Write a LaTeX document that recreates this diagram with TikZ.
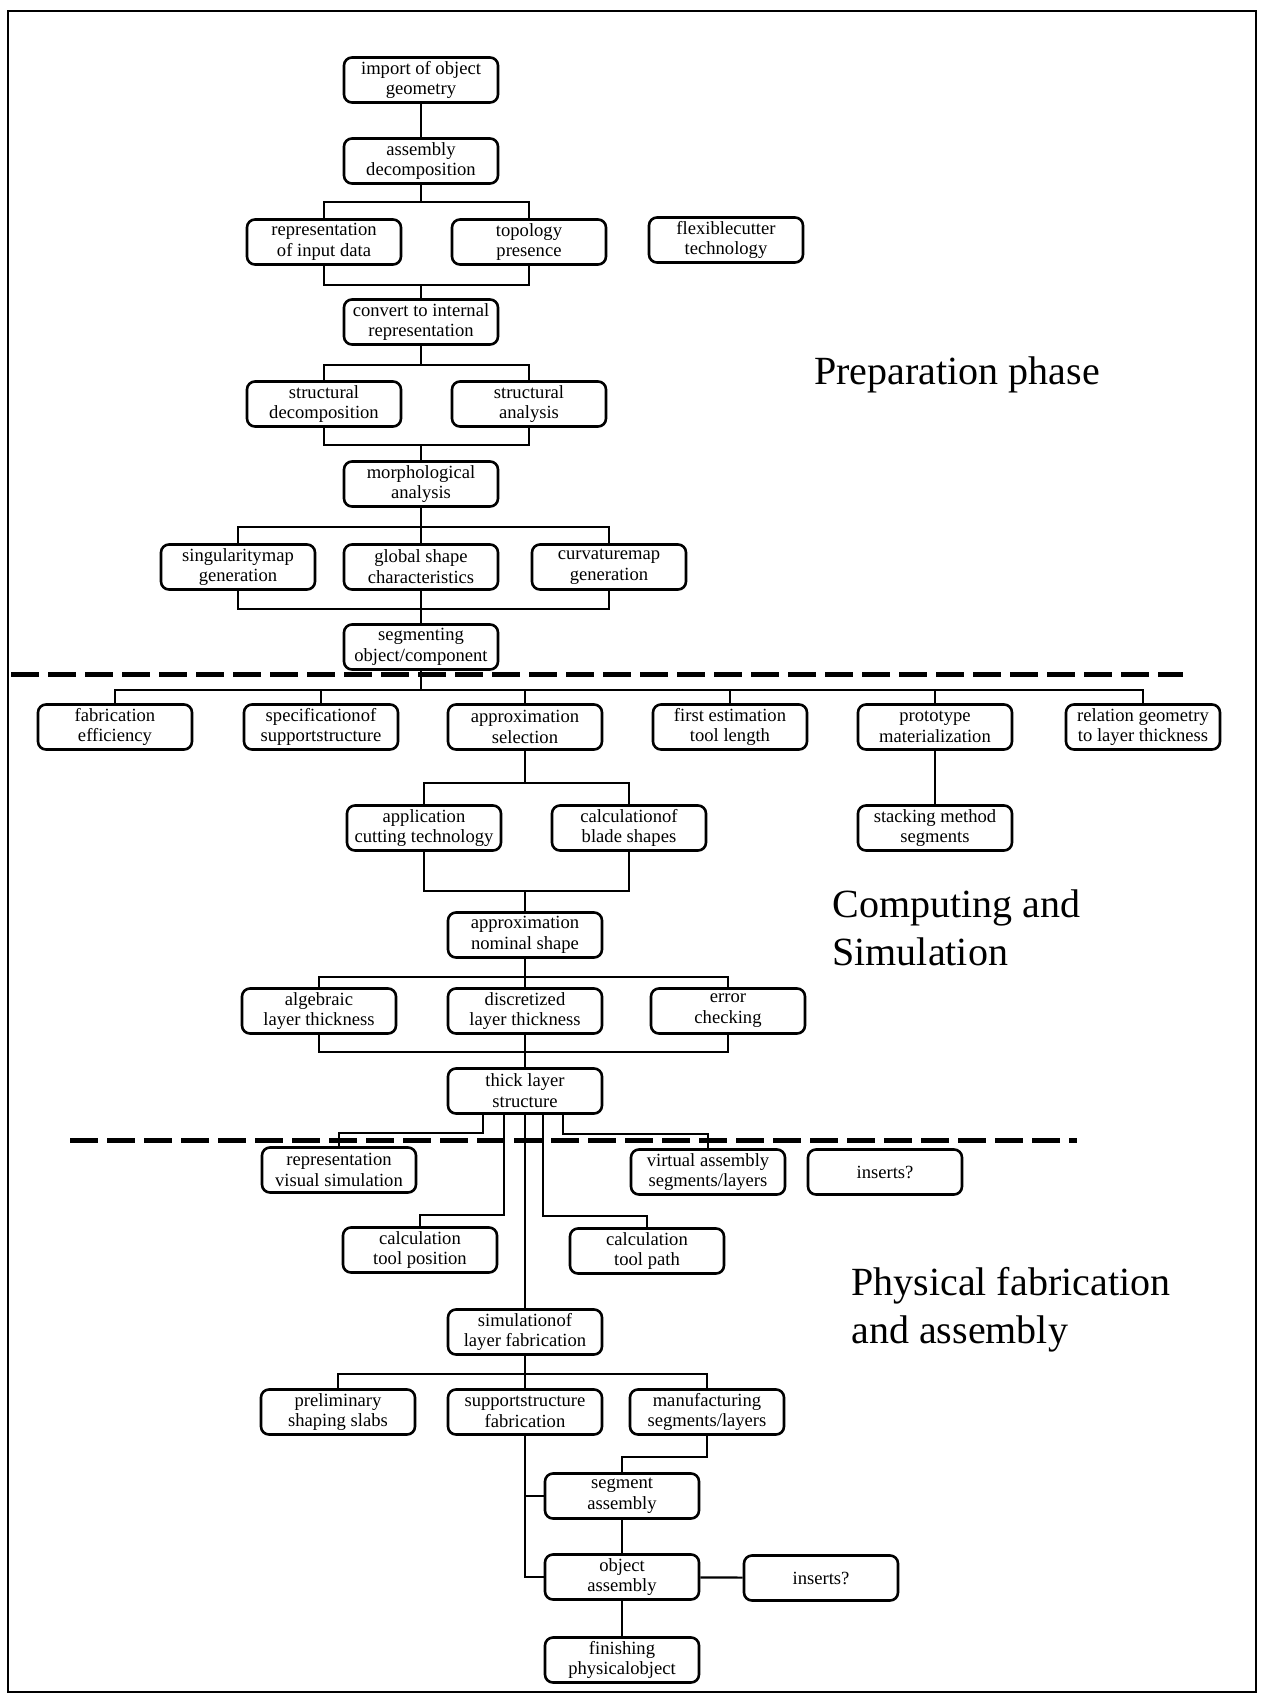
\documentclass[tikz,border=0pt]{standalone}
\usepackage{fontspec}
\setmainfont{Liberation Serif}
\usepackage{tikz}
\tikzset{
	box/.style={draw, line width=1.3pt, rounded corners=4pt, align=center,
		minimum width=77pt, minimum height=22.5pt, inner xsep=1pt, inner ysep=1.5pt,
		font=\fontsize{9.3}{10.4}\selectfont},
	link/.style={line width=1.1pt},
	phase/.style={dash pattern=on 14pt off 4.5pt, line width=2.5pt},
	title/.style={anchor=west, align=left, inner sep=0pt, font=\fontsize{20}{24}\selectfont},
}
\begin{document}
\begin{tikzpicture}[x=0.5pt, y=-0.5pt]
		\useasboundingbox (0,0) rectangle (1260,1697);
		\draw [line width=1.3pt] (8,11) rectangle (1256,1692);
		\node [box] (imp) at (421,80) {import of object\\geometry};
		\node [box] (asm) at (421,161) {assembly\\decomposition};
		\node [box] (rep) at (324,242) {representation\\of input data};
		\node [box] (topo) at (529,242) {topology\\presence};
		\node [box] (flex) at (726,240) {flexiblecutter\\technology};
		\node [box] (conv) at (421,322) {convert to internal\\representation};
		\node [box] (sdec) at (324,404) {structural\\decomposition};
		\node [box] (sana) at (529,404) {structural\\analysis};
		\node [box] (morph) at (421,484) {morphological\\analysis};
		\node [box] (sing) at (238,567) {singularitymap\\generation};
		\node [box] (glob) at (421,567) {global shape\\characteristics};
		\node [box] (curv) at (609,567) {curvaturemap\\generation};
		\node [box] (seg) at (421,647) {segmenting\\object/component};
		\node [box] (fab) at (115,727) {fabrication\\efficiency};
		\node [box] (spec) at (321,727) {specificationof\\supportstructure};
		\node [box] (appsel) at (525,727) {approximation\\selection};
		\node [box] (first) at (730,727) {first estimation\\tool length};
		\node [box] (proto) at (935,727) {prototype\\materialization};
		\node [box] (rel) at (1143,727) {relation geometry\\to layer thickness};
		\node [box] (app) at (424,828) {application\\cutting technology};
		\node [box] (blade) at (629,828) {calculationof\\blade shapes};
		\node [box] (stack) at (935,828) {stacking method\\segments};
		\node [box] (nom) at (525,935) {approximation\\nominal shape};
		\node [box] (alg) at (319,1011) {algebraic\\layer thickness};
		\node [box] (disc) at (525,1011) {discretized\\layer thickness};
		\node [box] (err) at (728,1011) {error\\checking};
		\node [box] (thick) at (525,1091) {thick layer\\structure};
		\node [box] (vis) at (339,1170) {representation\\visual simulation};
		\node [box] (virt) at (708,1172) {virtual assembly\\segments/layers};
		\node [box] (insa) at (885,1172) {inserts?};
		\node [box] (ctp) at (420,1250) {calculation\\tool position};
		\node [box] (ctpath) at (647,1251) {calculation\\tool path};
		\node [box] (sim) at (525,1332) {simulationof\\layer fabrication};
		\node [box] (prel) at (338,1412) {preliminary\\shaping slabs};
		\node [box] (supp) at (525,1412) {supportstructure\\fabrication};
		\node [box] (manuf) at (707,1412) {manufacturing\\segments/layers};
		\node [box] (segasm) at (622,1496) {segment\\assembly};
		\node [box] (objasm) at (622,1577) {object\\assembly};
		\node [box] (insb) at (821,1578) {inserts?};
		\node [box] (fin) at (622,1660) {finishing\\physicalobject};

		\node [title] (prep) at (814,375) {Preparation phase};
		\node [title] (comp) at (832,928) {Computing and\\Simulation};
		\node [title] (phys) at (851,1310) {Physical fabrication\\and assembly};

		\coordinate (b1) at (421,202);
		\coordinate (b2) at (421,285);
		\coordinate (b3) at (421,365);
		\coordinate (b4) at (421,445);
		\coordinate (b5) at (421,527);
		\coordinate (b6) at (421,609);
		\coordinate (b7) at (421,690);
		\coordinate (b8) at (525,783);
		\coordinate (b9) at (525,891);
		\coordinate (b10) at (525,977);
		\coordinate (b11) at (525,1052);
		\coordinate (b12) at (525,1374);

		\draw [link] (imp) -- (asm);
		\draw [link] (asm) -- (b1);
		\draw [link] (rep.north) |- (b1) -| (topo.north);
		\draw [link] (rep.south) |- (b2) -| (topo.south);
		\draw [link] (b2) -- (conv);
		\draw [link] (conv) -- (b3);
		\draw [link] (sdec.north) |- (b3) -| (sana.north);
		\draw [link] (sdec.south) |- (b4) -| (sana.south);
		\draw [link] (b4) -- (morph);
		\draw [link] (morph) -- (glob);
		\draw [link] (sing.north) |- (b5) -| (curv.north);
		\draw [link] (sing.south) |- (b6) -| (curv.south);
		\draw [link] (glob) -- (seg);
		\draw [link] (seg) -- (b7);
		\draw [link] (fab.north) |- (b7) -| (rel.north);
		\foreach \n in {spec,appsel,first,proto}
			\draw [link] (\n.north) -- (\n.north |- b7);
		\draw [link] (appsel) -- (b8);
		\draw [link] (app.north) |- (b8) -| (blade.north);
		\draw [link] (app.south) |- (b9) -| (blade.south);
		\draw [link] (b9) -- (nom);
		\draw [link] (proto) -- (stack);
		\draw [link] (nom) -- (disc);
		\draw [link] (alg.north) |- (b10) -| (err.north);
		\draw [link] (alg.south) |- (b11) -| (err.south);
		\draw [link] (disc) -- (thick);
		\draw [link] ([xshift=-21pt]thick.south) -- ++(0,18) -| (vis.north);
		\draw [link] ([xshift=-10.5pt]thick.south) -- ++(0,100) -| (ctp.north);
		\draw [link] (thick) -- (sim);
		\draw [link] ([xshift=9pt]thick.south) -- ++(0,101) -| (ctpath.north);
		\draw [link] ([xshift=19pt]thick.south) -- ++(0,19) -| (virt.north);
		\draw [link] (sim) -- (supp);
		\draw [link] (prel.north) |- (b12) -| (manuf.north);
		\draw [link] (manuf.south) -- ++(0,21) -| (segasm.north);
		\draw [link] (supp.south) |- (objasm.west);
		\draw [link] (supp.south |- segasm.west) -- (segasm.west);
		\draw [link] (segasm) -- (objasm);
		\draw [link] (objasm) -- (insb);
		\draw [link] (objasm) -- (fin);

		\draw [phase] (11,674) -- (1183,674);
		\draw [phase] (70,1140) -- (1077,1140);
\end{tikzpicture}
\end{document}
